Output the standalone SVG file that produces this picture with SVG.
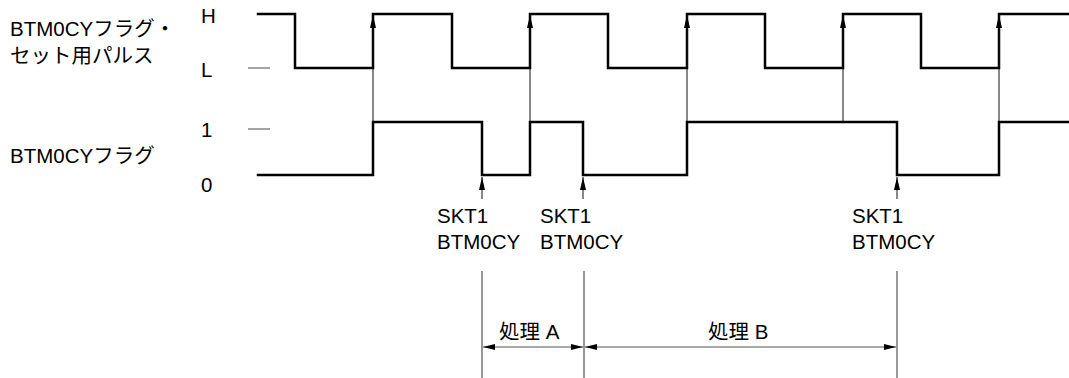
<svg xmlns="http://www.w3.org/2000/svg" width="1069" height="378" viewBox="0 0 1069 378">
<style>
text{font-family:"Liberation Sans","Noto Sans CJK JP",sans-serif;font-size:20.5px;fill:#000}
.wave{fill:none;stroke:#000;stroke-width:2.5;stroke-linejoin:miter;stroke-linecap:square}
.thin{fill:none;stroke:#111;stroke-width:1}
.gray{fill:none;stroke:#666;stroke-width:1.2}
.dim{fill:none;stroke:#555;stroke-width:1.2}
</style>
<defs>
<marker id="up" viewBox="0 0 13 6" refX="13" refY="3" markerWidth="13" markerHeight="6" markerUnits="userSpaceOnUse" orient="auto">
<path d="M0,0 L13,3 L0,6 Z" fill="#000"/>
</marker>
<marker id="ah" viewBox="0 0 12 6" refX="12" refY="3" markerWidth="12" markerHeight="6" markerUnits="userSpaceOnUse" orient="auto-start-reverse">
<path d="M0,0 L12,3 L0,6 Z" fill="#000"/>
</marker>
</defs>
<g id="labels">
<text x="10" y="36">BTM0CYフラグ・</text>
<text x="10" y="63">セット用パルス</text>
<text x="10" y="163">BTM0CYフラグ</text>
<text x="201" y="23">H</text>
<text x="201" y="77">L</text>
<text x="201" y="137">1</text>
<text x="201" y="192">0</text>
</g>
<g id="ticks">
<line class="gray" x1="248" y1="68" x2="270" y2="68"/>
<line class="gray" x1="248" y1="129" x2="270" y2="129"/>
</g>
<g id="pulse">
<path class="wave" d="M258,14 H295 V68 H373 V14 H452 V68 H530 V14 H608 V68 H687 V14 H765 V68 H843 V14 H921 V68 H999 V14 H1069"/>
</g>
<g id="flag">
<path class="wave" d="M258,175 H373 V122 H482 V175 H530 V122 H583 V175 H687 V122 H897 V175 H999 V122 H1069"/>
</g>
<g id="connectors">
<line class="thin" x1="373" y1="122" x2="373" y2="15" marker-end="url(#up)"/>
<line class="thin" x1="530" y1="122" x2="530" y2="15" marker-end="url(#up)"/>
<line class="thin" x1="687" y1="122" x2="687" y2="15" marker-end="url(#up)"/>
<line class="thin" x1="843" y1="122" x2="843" y2="15" marker-end="url(#up)"/>
<line class="thin" x1="999" y1="122" x2="999" y2="15" marker-end="url(#up)"/>
<line class="thin" x1="482" y1="199" x2="482" y2="177" marker-end="url(#up)"/>
<line class="thin" x1="583" y1="199" x2="583" y2="177" marker-end="url(#up)"/>
<line class="thin" x1="897" y1="199" x2="897" y2="177" marker-end="url(#up)"/>
</g>
<g id="skt-labels">
<text x="437" y="223">SKT1</text>
<text x="437" y="249">BTM0CY</text>
<text x="540" y="223">SKT1</text>
<text x="540" y="249">BTM0CY</text>
<text x="852" y="223">SKT1</text>
<text x="852" y="249">BTM0CY</text>
</g>
<g id="dimensions">
<line class="dim" x1="482" y1="271" x2="482" y2="378"/>
<line class="dim" x1="584" y1="271" x2="584" y2="378"/>
<line class="dim" x1="897" y1="271" x2="897" y2="378"/>
<line class="dim" x1="483" y1="347" x2="583" y2="347" marker-start="url(#ah)" marker-end="url(#ah)"/>
<line class="dim" x1="585" y1="347" x2="896" y2="347" marker-start="url(#ah)" marker-end="url(#ah)"/>
<text x="499" y="339">処理 A</text>
<text x="708" y="339">処理 B</text>
</g>
</svg>
